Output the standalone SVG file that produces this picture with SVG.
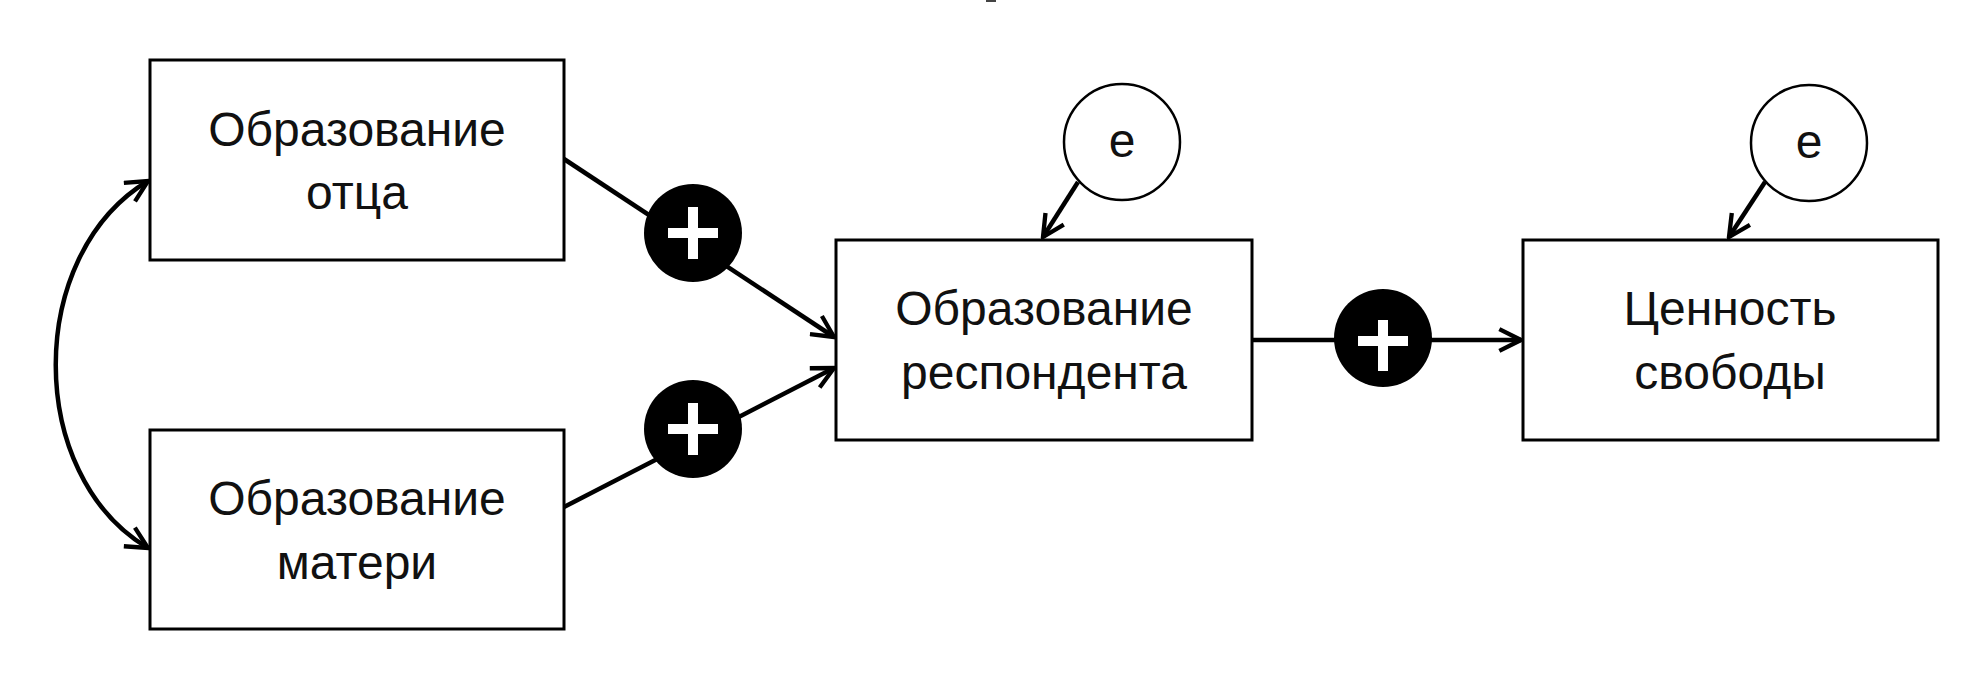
<svg xmlns="http://www.w3.org/2000/svg" width="1966" height="694" viewBox="0 0 1966 694">
<style>
.box{fill:#fff;stroke:#000;stroke-width:3}
.lbl{font-family:"Liberation Sans",Arial,sans-serif;font-size:48px;fill:#111;text-anchor:middle}
.err{fill:#fff;stroke:#000;stroke-width:2.5}
.plus{fill:#000}
.pl{stroke:#fff;stroke-width:10}
.con{fill:none;stroke:#000;stroke-width:4.5}
</style>
<defs>
<marker id="ah" viewBox="0 0 12 12" refX="11" refY="6" markerWidth="26" markerHeight="26" markerUnits="userSpaceOnUse" orient="auto-start-reverse">
<path d="M1,1 L11,6 L1,11" fill="none" stroke="#000" stroke-width="2"/>
</marker>
</defs>
<rect width="1966" height="694" fill="#fff"/>
<rect x="986" y="0" width="10" height="2" fill="#444"/>
<g id="connectors">
<path class="con" d="M148,181 C25,255 25,475 148,548" marker-start="url(#ah)" marker-end="url(#ah)"/>
<line class="con" x1="564" y1="159" x2="834" y2="337" marker-end="url(#ah)"/>
<line class="con" x1="564" y1="507" x2="834" y2="368" marker-end="url(#ah)"/>
<line class="con" x1="1252" y1="340" x2="1521" y2="340" marker-end="url(#ah)"/>
<line class="con" x1="1078" y1="182" x2="1043" y2="237" marker-end="url(#ah)"/>
<line class="con" x1="1765" y1="182" x2="1729" y2="237" marker-end="url(#ah)"/>
</g>
<g id="plus1"><circle class="plus" cx="693" cy="233" r="49"/><path class="pl" d="M668,233 H718 M693,207 V259"/></g>
<g id="plus2"><circle class="plus" cx="693" cy="429" r="49"/><path class="pl" d="M668,429 H718 M693,403 V455"/></g>
<g id="plus3"><circle class="plus" cx="1383" cy="338" r="49"/><path class="pl" d="M1358,341 H1408 M1383,320 V371"/></g>
<g id="father"><rect class="box" x="150" y="60" width="414" height="200"/><text class="lbl" x="357" y="146">Образование</text><text class="lbl" x="357" y="209">отца</text></g>
<g id="mother"><rect class="box" x="150" y="430" width="414" height="199"/><text class="lbl" x="357" y="515">Образование</text><text class="lbl" x="357" y="579">матери</text></g>
<g id="respondent"><rect class="box" x="836" y="240" width="416" height="200"/><text class="lbl" x="1044" y="325">Образование</text><text class="lbl" x="1044" y="389">респондента</text></g>
<g id="freedom"><rect class="box" x="1523" y="240" width="415" height="200"/><text class="lbl" x="1730" y="325">Ценность</text><text class="lbl" x="1730" y="389">свободы</text></g>
<g id="e1"><circle class="err" cx="1122" cy="142" r="58"/><text class="lbl" x="1122" y="157">e</text></g>
<g id="e2"><circle class="err" cx="1809" cy="143" r="58"/><text class="lbl" x="1809" y="158">e</text></g>
</svg>
